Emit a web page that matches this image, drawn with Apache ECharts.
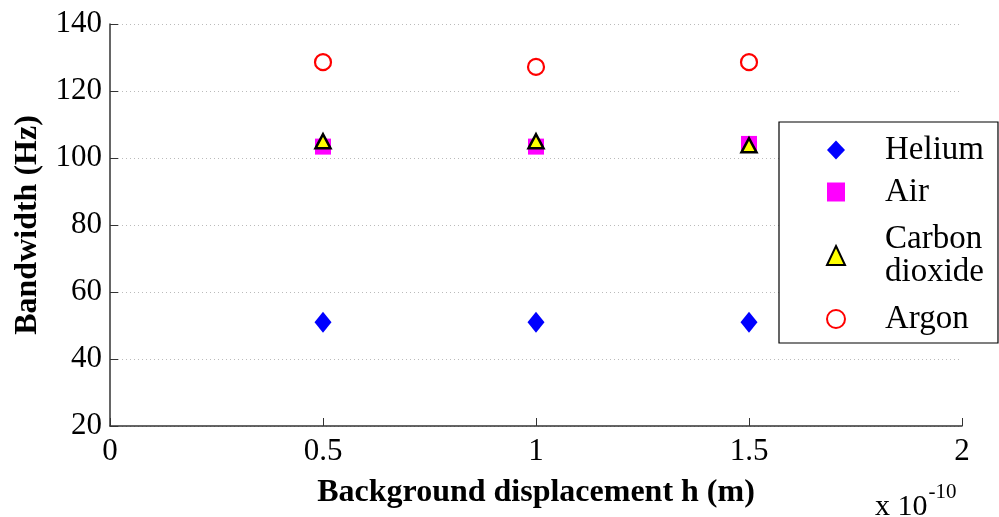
<!DOCTYPE html>
<html>
<head>
<meta charset="utf-8">
<script src="https://cdn.jsdelivr.net/npm/echarts@6/dist/echarts.min.js"></script>
<style>html,body{margin:0;padding:0;background:#fff}#c{width:999px;height:517px}</style>
</head>
<body>
<div id="c"></div>
<script>
const xValues = [0.5, 1.0, 1.5];
const seriesNames = ['Helium', 'Air', 'Carbon dioxide', 'Argon'];
const helium = [51, 51, 51];
const air = [103.4, 103.4, 104.2];
const carbonDioxide = [105, 105, 103.8];
const argon = [128.6, 127.2, 128.6];
const yTicks = [20, 40, 60, 80, 100, 120, 140];
const xTicks = [0, 0.5, 1, 1.5, 2];

const font = 'Liberation Serif';
const pts = arr => arr.map((v, i) => [xValues[i], v]);

const chart = echarts.init(document.getElementById('c'));
chart.setOption({
  animation: false,
  backgroundColor: '#fff',
  grid: { left: 110, right: 37, top: 24, bottom: 91, containLabel: false },
  xAxis: {
    type: 'value', min: xTicks[0], max: xTicks[xTicks.length - 1], interval: 0.5,
    name: 'Background displacement h (m)', nameLocation: 'middle', nameGap: 51,
    nameTextStyle: { fontFamily: font, fontWeight: 'bold', fontSize: 32, color: '#000' },
    axisLine: { lineStyle: { color: '#333', width: 1.5 } },
    axisTick: { inside: true, length: 8, lineStyle: { color: '#333' } },
    axisLabel: { fontFamily: font, fontSize: 31, color: '#000', margin: 10, formatter: v => String(v) },
    splitLine: { show: false }
  },
  yAxis: {
    type: 'value', min: yTicks[0], max: yTicks[yTicks.length - 1], interval: 20,
    name: 'Bandwidth (Hz)', nameLocation: 'middle', nameGap: 66,
    nameTextStyle: { fontFamily: font, fontWeight: 'bold', fontSize: 32, color: '#000' },
    axisLine: { show: true, lineStyle: { color: '#333', width: 1.5 } },
    axisTick: { show: true, inside: true, length: 8, lineStyle: { color: '#333' } },
    axisLabel: { fontFamily: font, fontSize: 31, color: '#000', margin: 8 },
    splitLine: { show: true, lineStyle: { color: '#bbb', type: [1, 3], width: 1 } }
  },
  legend: {
    orient: 'vertical', left: 779, top: 122,
    data: seriesNames,
    itemWidth: 18, itemHeight: 19, itemGap: 9,
    padding: [11.5, 14, 7.5, 47],
    backgroundColor: '#fff', borderColor: '#000', borderWidth: 1.2, borderRadius: 0,
    formatter: n => n === 'Carbon dioxide' ? '{b|Carbon}\n{c|dioxide}' : '{a|' + n + '}',
    textStyle: {
      fontFamily: font, fontSize: 33, color: '#000',
      rich: {
        a: { fontFamily: font, fontSize: 33, lineHeight: 33, color: '#000', padding: [0, 0, 0, 35] },
        b: { fontFamily: font, fontSize: 33, lineHeight: 38, color: '#000', padding: [5, 0, 0, 35] },
        c: { fontFamily: font, fontSize: 33, lineHeight: 38, color: '#000', padding: [0, 0, 5, 35] }
      }
    }
  },
  graphic: [{
    type: 'text', left: 875, top: 482,
    style: {
      text: '{m|x 10}{s|-10}',
      rich: {
        m: { fontFamily: font, fontSize: 30, color: '#000', padding: [12, 0, 0, 0] },
        s: { fontFamily: font, fontSize: 21, color: '#000', verticalAlign: 'top', padding: [2, 0, 0, 1] }
      }
    }
  }],
  series: [
    { name: 'Helium', type: 'scatter', data: pts(helium), symbol: 'diamond', symbolSize: [17, 21],
      itemStyle: { color: '#0000ff', opacity: 1 } },
    { name: 'Air', type: 'scatter', data: pts(air), symbol: 'rect', symbolSize: [16, 16],
      itemStyle: { color: '#ff00ff', opacity: 1 } },
    { name: 'Carbon dioxide', type: 'scatter', data: pts(carbonDioxide), symbol: 'triangle', symbolSize: [15, 14],
      itemStyle: { color: '#ffff00', borderColor: '#000', borderWidth: 2.5, opacity: 1 } },
    { name: 'Argon', type: 'scatter', data: pts(argon), symbol: 'circle', symbolSize: 16,
      itemStyle: { color: '#fff', borderColor: '#ff0000', borderWidth: 2.2, opacity: 1 } }
  ]
});
</script>
</body>
</html>
